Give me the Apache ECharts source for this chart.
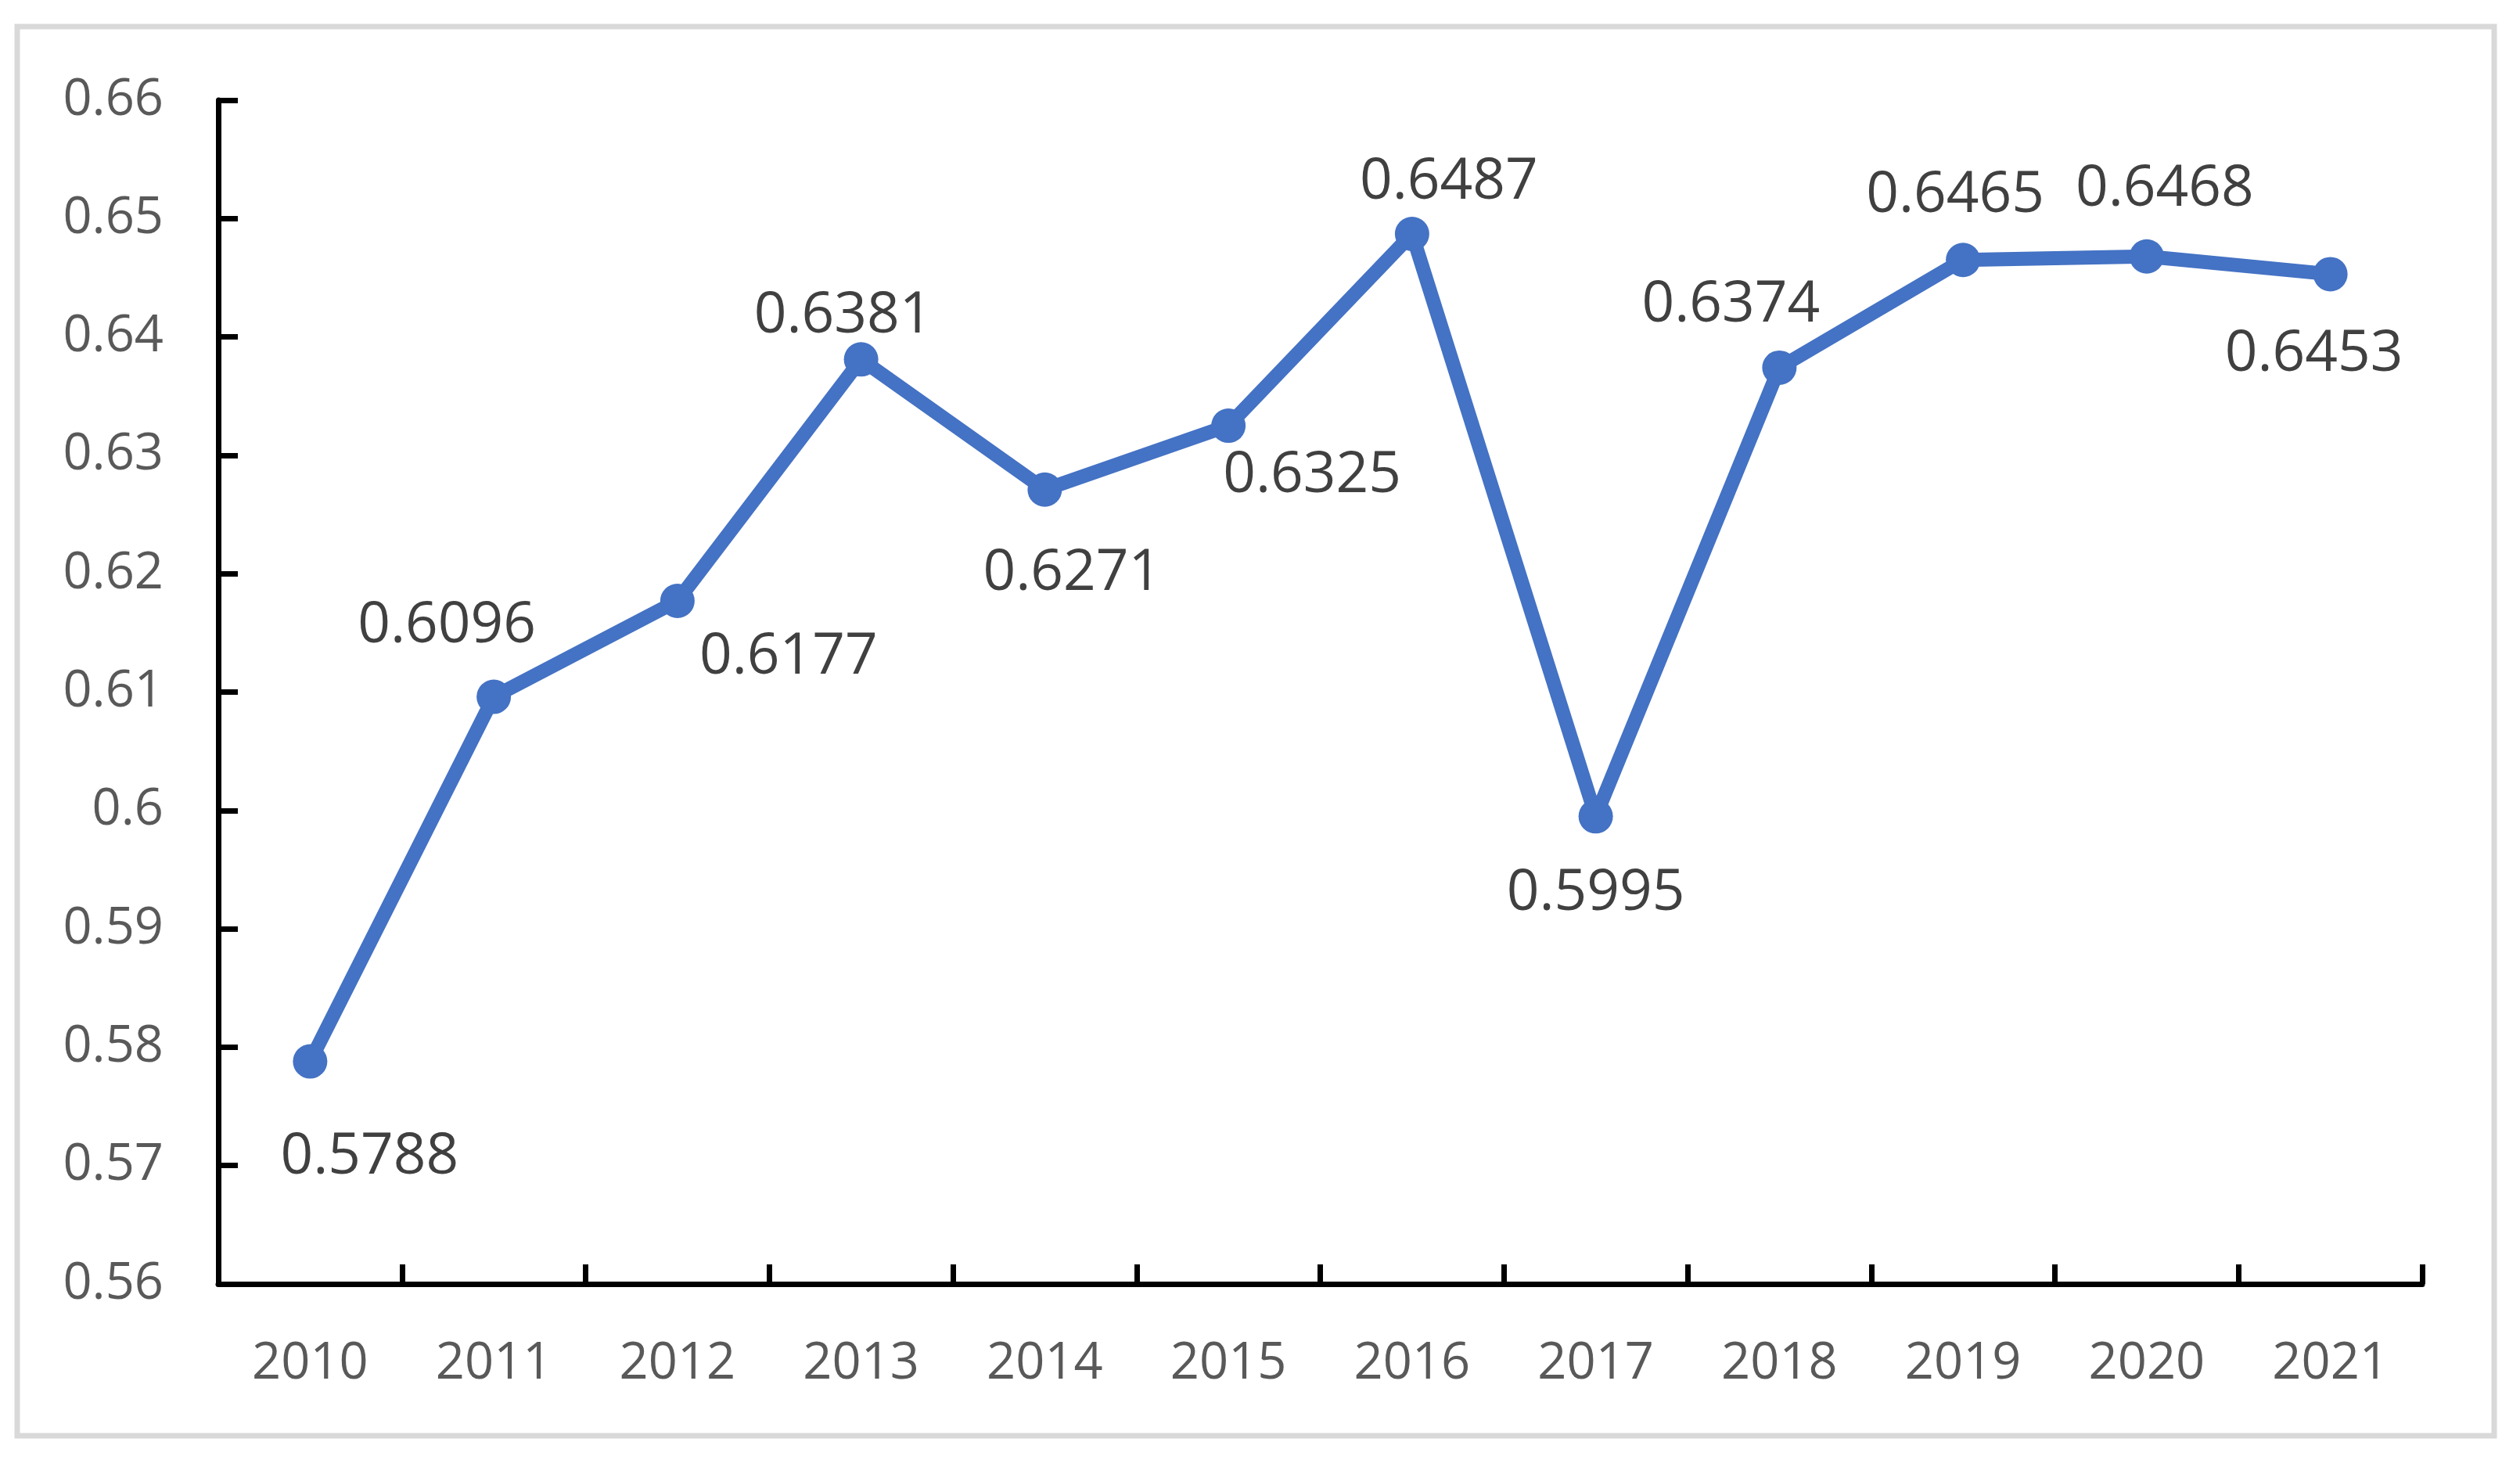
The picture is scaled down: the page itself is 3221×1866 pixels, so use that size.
<!DOCTYPE html>
<html>
<head>
<meta charset="utf-8">
<style>
  html, body { margin: 0; padding: 0; background: #ffffff; }
  #chart { width: 3221px; height: 1866px; }
</style>
<script src="https://cdn.jsdelivr.net/npm/echarts@6/dist/echarts.min.js"></script>
</head>
<body>
<div id="chart"></div>
<script>
// ---- data ----
const years = ['2010','2011','2012','2013','2014','2015','2016','2017','2018','2019','2020','2021'];
const values = [0.5788, 0.6096, 0.6177, 0.6381, 0.6271, 0.6325, 0.6487, 0.5995, 0.6374, 0.6465, 0.6468, 0.6453];
const yMin = 0.56;
const yMax = 0.66;
const yStep = 0.01;

// ---- label placement (layout only) ----
const labelOffsets = [
  [76, 123], [-60, -90], [142, 72], [-23, -55], [35, 107], [107, 64],
  [47, -66], [0, 99], [-62, -80], [-10, -82], [23, -86], [-21, 103]
];

const FONT = '"Open Sans", "Noto Sans", sans-serif';
const chart = echarts.init(document.getElementById('chart'), null, { renderer: 'canvas' });

const seriesData = values.map((v, i) => ({
  value: v,
  label: { offset: labelOffsets[i] }
}));

chart.setOption({
  animation: false,
  backgroundColor: '#ffffff',
  graphic: [{
    type: 'rect',
    shape: { x: 22, y: 34, width: 3166, height: 1801 },
    style: { fill: 'none', stroke: '#d9d9d9', lineWidth: 7 },
    silent: true
  }],
  grid: { left: 279, right: 125, top: 128, bottom: 225, containLabel: false },
  xAxis: {
    type: 'category',
    data: years,
    boundaryGap: true,
    axisLine: { show: true, lineStyle: { color: '#000000', width: 7 } },
    axisTick: { show: true, inside: true, length: 25, alignWithLabel: false, lineStyle: { color: '#000000', width: 7 } },
    axisLabel: { color: '#595959', fontSize: 65, fontFamily: FONT, margin: 70 },
    splitLine: { show: false }
  },
  yAxis: {
    type: 'value',
    min: yMin,
    max: yMax,
    interval: yStep,
    axisLine: { show: true, lineStyle: { color: '#000000', width: 7 } },
    axisTick: { show: true, inside: true, length: 25, lineStyle: { color: '#000000', width: 7 } },
    axisLabel: {
      color: '#595959', fontSize: 65, fontFamily: FONT, margin: 70,
      formatter: v => String(parseFloat(v.toFixed(4)))
    },
    splitLine: { show: false }
  },
  series: [{
    type: 'line',
    data: seriesData,
    symbol: 'circle',
    symbolSize: 44,
    lineStyle: { color: '#4472C4', width: 18 },
    itemStyle: { color: '#4472C4' },
    label: {
      show: true,
      position: 'inside',
      color: '#404040',
      fontSize: 73,
      fontFamily: FONT,
      formatter: p => p.value.toFixed(4)
    },
    z: 3
  }]
});
</script>
</body>
</html>
